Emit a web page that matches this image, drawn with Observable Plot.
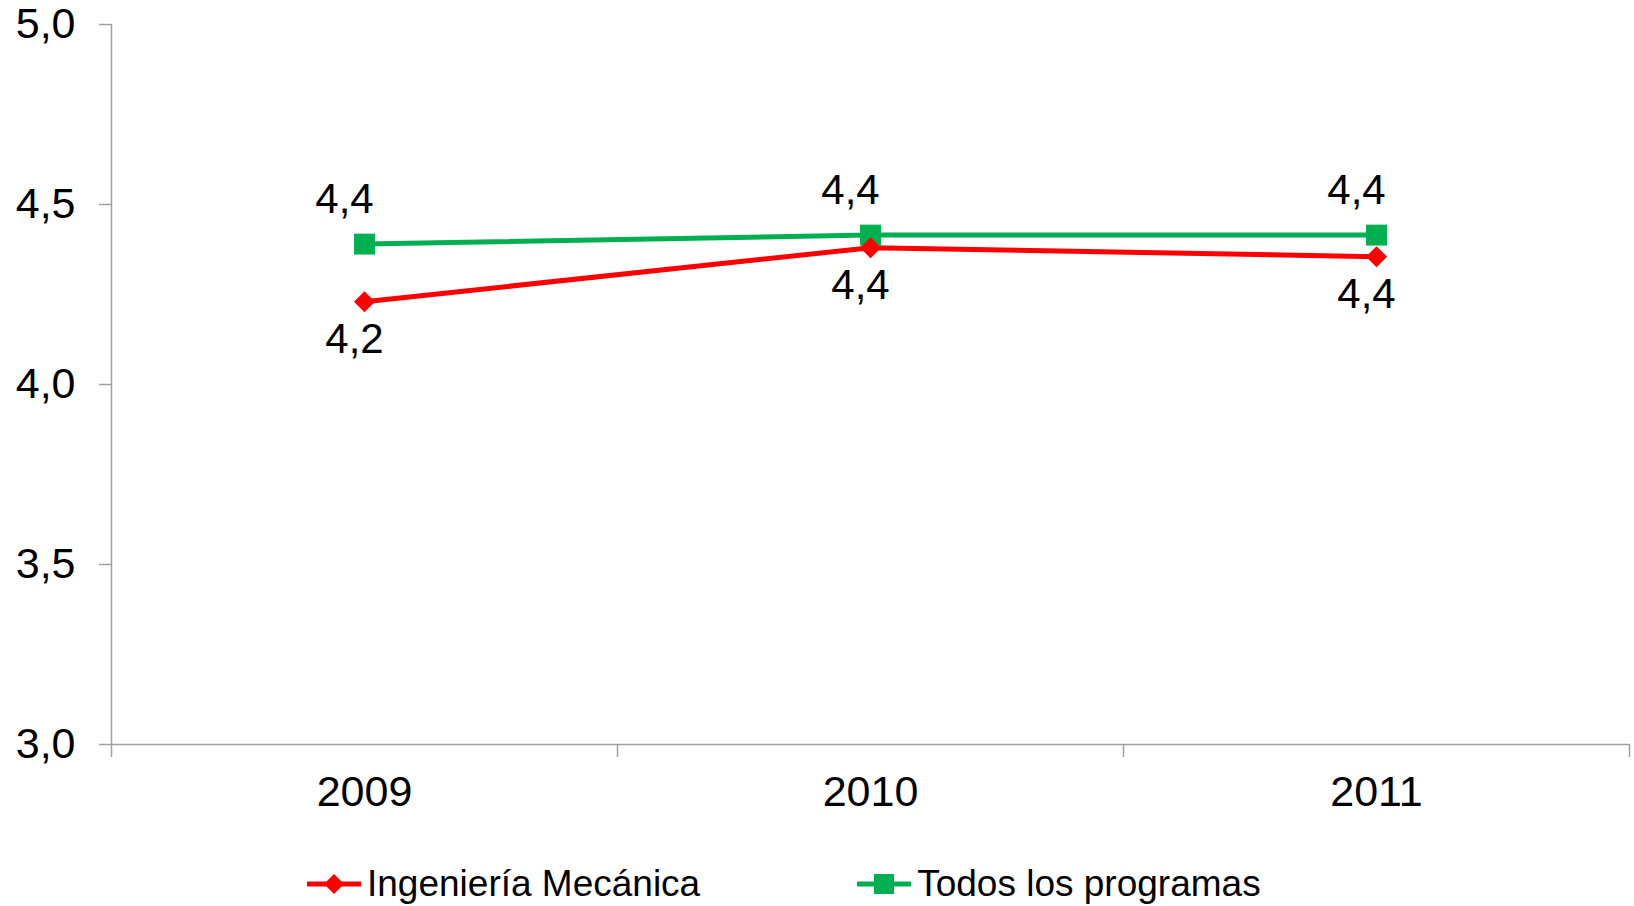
<!DOCTYPE html>
<html><head><meta charset="utf-8">
<script src="https://cdn.jsdelivr.net/npm/d3@7"></script>
<script src="https://cdn.jsdelivr.net/npm/@observablehq/plot@0.6"></script>
<style>
html,body{margin:0;padding:0;background:#fff;overflow:hidden;}
body{font-family:"Liberation Sans",Arial,sans-serif;width:1634px;height:906px;position:relative;}
#legend{position:absolute;left:307px;top:884px;transform:translateY(-50%);display:flex;align-items:center;font-size:37px;color:#000;white-space:nowrap;}
.item{display:flex;align-items:center;}
.item svg{margin-right:6px;display:block}
</style></head><body>
<div id="chart"></div><div id="legend"></div>
<script>
const years = ["2009", "2010", "2011"];
const ingenieriaMecanica = [4.23, 4.38, 4.355];
const todosLosProgramas = [4.39, 4.415, 4.415];
const seriesNames = ["Ingeniería Mecánica", "Todos los programas"];
const seriesColors = ["#FF0000", "#00B050"];
const yTicks = [3.0, 3.5, 4.0, 4.5, 5.0];
const yDomain = [3, 5];

const fmt = v => v.toFixed(1).replace(".", ",");
const xDomain = [-0.5, years.length - 0.5];
const bounds = d3.range(years.length + 1).map(i => i - 0.5);
const idx = d3.range(years.length);

const red = years.map((y, i) => ({i, year: y, value: ingenieriaMecanica[i], series: seriesNames[0]}));
const green = years.map((y, i) => ({i, year: y, value: todosLosProgramas[i], series: seriesNames[1]}));
const data = red.concat(green);

const chart = Plot.plot({
  width: 1634, height: 840,
  marginLeft: 111, marginRight: 5, marginTop: 24, marginBottom: 96,
  style: {fontFamily: "'Liberation Sans', Arial, sans-serif", fontSize: "40px", color: "#000", background: "#fff", overflow: "visible"},
  x: {domain: xDomain},
  y: {domain: yDomain},
  color: {domain: seriesNames, range: seriesColors},
  marks: [
    Plot.ruleX([xDomain[0]], {stroke: "#a0a0a0", strokeWidth: 1.5}),
    Plot.ruleY([yDomain[0]], {stroke: "#a0a0a0", strokeWidth: 1.5}),
    Plot.axisY({ticks: yTicks, tickFormat: fmt, tickSize: 12, tickPadding: 24, stroke: "#a0a0a0", fill: "#000", fontSize: 43, strokeWidth: 1.5, label: null}),
    Plot.axisX({ticks: bounds, tickFormat: () => "", tickSize: 13, stroke: "#a0a0a0", strokeWidth: 1.5, label: null}),
    Plot.axisX({ticks: idx, tickFormat: i => years[i], tickSize: 0, tickPadding: 31, fill: "#000", fontSize: 43, label: null}),
    Plot.line(data, {x: "i", y: "value", z: "series", stroke: "series", strokeWidth: 5}),
    Plot.dot(green, {x: "i", y: "value", symbol: "square", r: 11.8, fill: seriesColors[1]}),
    Plot.dot(red, {x: "i", y: "value", symbol: "diamond2", r: 9.5, fill: seriesColors[0]}),
    Plot.text(green, {x: "i", y: "value", text: d => fmt(d.value), dy: -45, dx: -20, fontSize: 42, fill: "#000"}),
    Plot.text(red, {x: "i", y: "value", text: d => fmt(d.value), dy: 38, dx: -10, fontSize: 42, fill: "#000"})
  ]
});
document.getElementById("chart").appendChild(chart);

const legend = d3.select("#legend");
seriesNames.forEach((name, k) => {
  const item = legend.append("div").attr("class", "item").style("margin-right", k === 0 ? "157px" : "0");
  const s = item.append("svg").attr("width", 54).attr("height", 26);
  s.append("line").attr("x1", 0).attr("x2", 54).attr("y1", 13).attr("y2", 13)
    .attr("stroke", seriesColors[k]).attr("stroke-width", 5);
  if (k === 0) {
    s.append("path").attr("d", "M27,3L37,13L27,23L17,13Z").attr("fill", seriesColors[k]);
  } else {
    s.append("rect").attr("x", 17).attr("y", 3).attr("width", 20).attr("height", 20).attr("fill", seriesColors[k]);
  }
  item.append("span").text(name);
});
</script>
</body></html>
